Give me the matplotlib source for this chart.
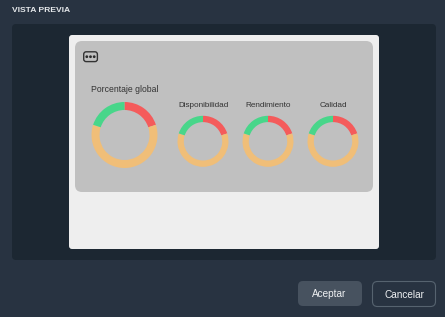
import matplotlib
matplotlib.use('Agg')
import matplotlib.pyplot as plt
from matplotlib.patches import FancyBboxPatch, Circle

W, H = 445, 317

# --- Data ---
titles = ['Porcentaje global', 'Disponibilidad', 'Rendimiento', 'Calidad']
red_vals = [20, 20, 20, 20]
orange_vals = [60, 60, 60, 60]
green_vals = [20, 20, 20, 20]
colors = ['#f45b5b', '#f0be78', '#48d68a']

header = 'VISTA PREVIA'
btn_ok = 'Aceptar'
btn_cancel = 'Cancelar'

# donut layout in pixels: x, y, outer radius, ring width, title y, font size
layout = [
    (124.5, 135.0, 33.0, 8.0, 90, 6.2),
    (203.0, 141.3, 25.5, 6.3, 105.5, 5.9),
    (268.0, 141.3, 25.5, 6.3, 105.5, 5.9),
    (333.0, 141.3, 25.5, 6.3, 105.5, 5.9),
]

plt.rcParams['font.family'] = ['Liberation Sans', 'DejaVu Sans']

fig = plt.figure(figsize=(W / 100, H / 100), dpi=100, facecolor='#283341')
ax = fig.add_axes([0, 0, 1, 1])


def box(x0, y0, x1, y1, color, r=4, edge='none', lw=0, z=1):
    # rounded box given in image pixels (y down)
    p = FancyBboxPatch((x0 + r, H - y1 + r), x1 - x0 - 2 * r, y1 - y0 - 2 * r,
                       boxstyle=f'round,pad={r},rounding_size={r}',
                       facecolor=color, edgecolor=edge, linewidth=lw, zorder=z)
    ax.add_patch(p)


box(12, 24, 436, 260, '#1c2732', r=4, z=1)
box(69, 35, 379, 249, '#eeeeee', r=3, z=2)
box(75, 41, 373, 192, '#c0c0c0', r=7, z=3)

# three dots icon
box(83.7, 51.8, 97.4, 61.6, 'none', r=2.5, edge='#333333', lw=1.0, z=4)
for cx in (86.8, 90.5, 94.2):
    ax.add_patch(Circle((cx, H - 56.7), 1.4, color='#2b2b2b', linewidth=0, zorder=5))

# donuts
for i, (x, y, r, w, ty, fs) in enumerate(layout):
    vals = [red_vals[i], orange_vals[i], green_vals[i]]
    wedges, _ = ax.pie(vals, colors=colors, startangle=90, counterclock=False,
                       radius=r, center=(x, H - y),
                       wedgeprops={'width': w, 'linewidth': 0})
    for wd in wedges:
        wd.set_zorder(6)
    ax.text(x + 0.5, H - ty, titles[i], fontsize=fs,
            color='#333333', ha='center', va='center', zorder=7)

# header and buttons
ax.text(11.5, H - 10, header, fontsize=6.1, fontweight='bold', color='#e4e7ea',
        ha='left', va='center', zorder=7)
box(298, 281, 362, 306, '#47525f', r=5, z=2)
box(372.5, 281.5, 435.5, 306.5, '#283341', r=5, edge='#56636f', lw=0.8, z=2)
ax.text(329.5, H - 294, btn_ok, fontsize=7.2, color='#eef0f2', ha='center', va='center', zorder=7)
ax.text(404, H - 295, btn_cancel, fontsize=7.2, color='#eef0f2', ha='center', va='center', zorder=7)

ax.set_xlim(0, W)
ax.set_ylim(0, H)
ax.set_aspect('auto')
ax.axis('off')

fig.savefig('out.png', dpi=100, facecolor=fig.get_facecolor())
plt.close(fig)
